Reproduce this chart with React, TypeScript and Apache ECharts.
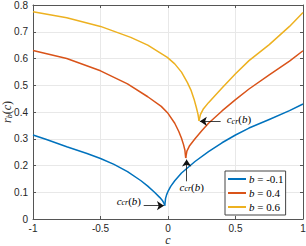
import React, { useEffect, useRef } from "react";
import * as echarts from "echarts";

const seriesNames = ["b = -0.1", "b = 0.4", "b = 0.6"];
const seriesColors = ["#0072BD", "#D95319", "#EDB120"];

// b = -0.1
const blueLeftC = [-1, -0.9, -0.75, -0.6, -0.5, -0.4, -0.3, -0.2, -0.15, -0.1, -0.06, -0.04, -0.03, -0.024];
const blueLeftR = [0.314, 0.297, 0.27, 0.245, 0.226, 0.204, 0.177, 0.143, 0.123, 0.1, 0.08, 0.068, 0.059, 0.05];
const blueRightC = [-0.024, -0.018, -0.01, 0, 0.02, 0.05, 0.1, 0.2, 0.3, 0.4, 0.5, 0.6, 0.75, 0.9, 1];
const blueRightR = [0.05, 0.077, 0.091, 0.103, 0.122, 0.143, 0.172, 0.215, 0.252, 0.285, 0.314, 0.34, 0.372, 0.405, 0.43];

// b = 0.4
const redLeftC = [-1, -0.75, -0.5, -0.3, -0.15, -0.05, 0, 0.05, 0.08, 0.1, 0.115, 0.125, 0.131];
const redLeftR = [0.63, 0.6, 0.554, 0.505, 0.457, 0.421, 0.395, 0.358, 0.327, 0.302, 0.278, 0.258, 0.228];
const redRightC = [0.131, 0.14, 0.16, 0.2, 0.25, 0.3, 0.4, 0.5, 0.6, 0.75, 0.9, 1];
const redRightR = [0.228, 0.254, 0.274, 0.3, 0.33, 0.358, 0.404, 0.446, 0.486, 0.539, 0.59, 0.629];

// b = 0.6
const yelLeftC = [-1, -0.75, -0.5, -0.276, -0.15, -0.005, 0.05, 0.1, 0.144, 0.17, 0.193, 0.21, 0.222, 0.23];
const yelLeftR = [0.775, 0.752, 0.72, 0.679, 0.65, 0.604, 0.58, 0.549, 0.51, 0.482, 0.448, 0.417, 0.392, 0.367];
const yelRightC = [0.23, 0.24, 0.26, 0.3, 0.4, 0.5, 0.6, 0.75, 0.9, 1];
const yelRightR = [0.367, 0.39, 0.41, 0.435, 0.49, 0.543, 0.592, 0.652, 0.72, 0.772];

// annotations: text position, arrow start, arrow tip (data coordinates)
const annText = [[-0.29, 0.068], [0.176, 0.12], [0.525, 0.372]];
const annArrowFrom = [[-0.18, 0.05], [0.138, 0.141], [0.39, 0.365]];
const annArrowTo = [[-0.03, 0.05], [0.138, 0.222], [0.236, 0.365]];

const xTicks = { min: -1, max: 1, interval: 0.5 };
const yTicks = { min: 0, max: 0.8, interval: 0.1 };

const serif = "'Liberation Serif', 'DejaVu Serif', serif";
const sans = "'Liberation Sans', Arial, sans-serif";

const zip = (a: number[], b: number[]) => a.map((v, i) => [v, b[i]]);

const ccrRich = {
  i: { fontFamily: serif, fontStyle: "italic", fontSize: 11, lineHeight: 12, color: "#000" },
  s: { fontFamily: serif, fontStyle: "italic", fontSize: 8, lineHeight: 8, verticalAlign: "bottom", color: "#000" },
  n: { fontFamily: serif, fontSize: 11, lineHeight: 12, color: "#000" },
};

export default function App() {
  const ref = useRef<HTMLDivElement>(null);
  useEffect(() => {
    if (!ref.current) return;
    const chart = echarts.init(ref.current, undefined, { renderer: "svg" });
    const branches = [
      [blueLeftC, blueLeftR, blueRightC, blueRightR],
      [redLeftC, redLeftR, redRightC, redRightR],
      [yelLeftC, yelLeftR, yelRightC, yelRightR],
    ];
    const series: any[] = [];
    branches.forEach((b, k) => {
      [zip(b[0], b[1]), zip(b[2], b[3])].forEach((data, j) => {
        const s: any = {
          type: "line",
          name: seriesNames[k],
          data,
          symbol: "none",
          showSymbol: false,
          smooth: false,
          lineStyle: { color: seriesColors[k], width: 1.5, join: "round" },
          itemStyle: { color: seriesColors[k] },
          z: 3,
        };
        if (j === 0) {
          s.markLine = {
            silent: true,
            symbol: ["none", "arrow"],
            symbolSize: 7,
            lineStyle: { color: "#111", width: 0.8, type: "solid" },
            label: { show: false },
            data: [[{ coord: annArrowFrom[k] }, { coord: annArrowTo[k] }]],
          };
          s.markPoint = {
            silent: true,
            symbol: "circle",
            symbolSize: 0,
            data: [
              {
                coord: annText[k],
                label: {
                  show: true,
                  position: "inside",
                  formatter: "{i|c}{s|cr}{n|(}{i|b}{n|)}",
                  rich: ccrRich,
                },
              },
            ],
          };
        }
        series.push(s);
      });
    });

    const axisLineStyle = { color: "#555", width: 1 };
    chart.setOption({
      animation: false,
      backgroundColor: "#fff",
      grid: { left: 33, right: 3, top: 5, bottom: 27, containLabel: false, outerBoundsMode: "none" },
      legend: {
        data: seriesNames,
        orient: "vertical",
        left: 225,
        top: 171,
        icon: "rect",
        itemWidth: 18,
        itemHeight: 2,
        itemGap: 2,
        padding: [2, 2, 2, 3],
        borderColor: "#444",
        borderWidth: 1,
        backgroundColor: "#fff",
        formatter: (name: string) => name.replace("b", "{i|b}"),
        textStyle: {
          fontFamily: serif,
          fontSize: 11,
          color: "#000",
          lineHeight: 12,
          padding: [0, 0, 0, -2],
          rich: { i: { fontFamily: serif, fontStyle: "italic", fontSize: 11, lineHeight: 12, color: "#000" } },
        },
      },
      xAxis: [
        {
          type: "value",
          ...xTicks,
          position: "bottom",
          name: "c",
          nameLocation: "middle",
          nameGap: 16,
          nameMoveOverlap: false,
          nameTextStyle: { fontFamily: serif, fontStyle: "italic", fontSize: 12, lineHeight: 10, color: "#262626" },
          axisLine: { show: true, onZero: false, lineStyle: axisLineStyle },
          axisTick: { show: true, inside: true, length: 3, lineStyle: axisLineStyle },
          axisLabel: { fontFamily: sans, fontSize: 10, color: "#262626", margin: 4 },
          splitLine: { show: true, lineStyle: { color: "#e8e8e8", width: 1 } },
        },
        {
          type: "value",
          ...xTicks,
          position: "top",
          axisLine: { show: true, onZero: false, lineStyle: axisLineStyle },
          axisTick: { show: true, inside: true, length: 3, lineStyle: axisLineStyle },
          axisLabel: { show: false },
          splitLine: { show: false },
        },
      ],
      yAxis: [
        {
          type: "value",
          ...yTicks,
          position: "left",
          name: "{i|r}{s|b}{n|(}{i|c}{n|)}",
          nameLocation: "middle",
          nameGap: 20,
          nameMoveOverlap: false,
          nameRotate: 90,
          nameTextStyle: {
            color: "#262626",
            rich: {
              i: { fontFamily: serif, fontStyle: "italic", fontSize: 12, lineHeight: 13, color: "#262626" },
              s: { fontFamily: serif, fontStyle: "italic", fontSize: 8, lineHeight: 8, verticalAlign: "bottom", color: "#262626" },
              n: { fontFamily: serif, fontSize: 12, lineHeight: 13, color: "#262626" },
            },
          },
          axisLine: { show: true, onZero: false, lineStyle: axisLineStyle },
          axisTick: { show: true, inside: true, length: 3, lineStyle: axisLineStyle },
          axisLabel: { fontFamily: sans, fontSize: 10, color: "#262626", margin: 5 },
          splitLine: { show: true, lineStyle: { color: "#e8e8e8", width: 1 } },
        },
        {
          type: "value",
          ...yTicks,
          position: "right",
          axisLine: { show: true, onZero: false, lineStyle: axisLineStyle },
          axisTick: { show: true, inside: true, length: 3, lineStyle: axisLineStyle },
          axisLabel: { show: false },
          splitLine: { show: false },
        },
      ],
      series,
    });
    return () => chart.dispose();
  }, []);
  return (
    <div
      ref={ref}
      style={{ position: "fixed", left: 0, top: 0, width: 306, height: 246, background: "#fff" }}
    />
  );
}
